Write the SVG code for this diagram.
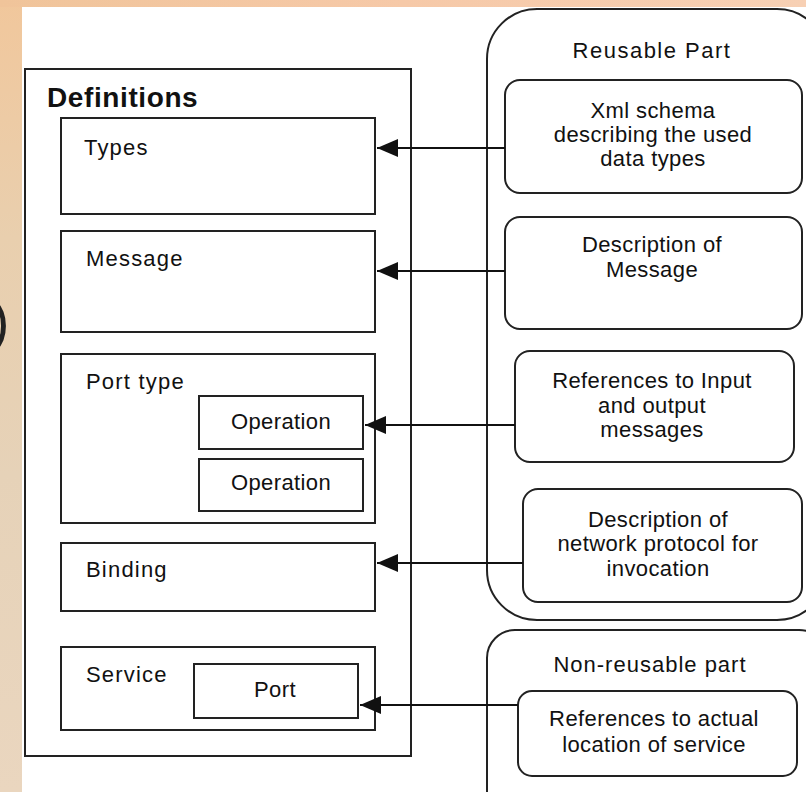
<svg xmlns="http://www.w3.org/2000/svg" width="806" height="792" viewBox="0 0 806 792">
<defs>
<linearGradient id="bgLeft" x1="0" y1="0" x2="0" y2="1">
<stop offset="0" stop-color="#f1c79c"/>
<stop offset="0.3" stop-color="#e9cfae"/>
<stop offset="0.6" stop-color="#e6d2b8"/>
<stop offset="1" stop-color="#ead6bf"/>
</linearGradient>
<linearGradient id="bgTop" x1="0" y1="0" x2="1" y2="0">
<stop offset="0" stop-color="#f0c49a"/>
<stop offset="0.5" stop-color="#f6c9a8"/>
<stop offset="1" stop-color="#f7d0b4"/>
</linearGradient>
<marker id="arr" markerWidth="22" markerHeight="20" refX="21" refY="10" orient="auto" markerUnits="userSpaceOnUse">
<path d="M21,10 L0,1 L0,19 Z" fill="#111"/>
</marker>
<style>
.box{fill:#fff;stroke:#222;stroke-width:2}
.rbox{fill:none;stroke:#222;stroke-width:2}
.lbl{font-family:"Liberation Sans",Arial,sans-serif;font-size:22px;fill:#111;letter-spacing:1.2px}
.rt{font-family:"Liberation Sans",Arial,sans-serif;font-size:22px;fill:#111;text-anchor:middle;letter-spacing:0.4px}
.con{stroke:#111;stroke-width:2;fill:none}
</style>
</defs>
<rect x="0" y="0" width="806" height="792" fill="url(#bgLeft)"/>
<rect x="0" y="0" width="806" height="7" fill="url(#bgTop)"/>
<rect x="22" y="7" width="784" height="785" fill="#fff"/>
<text x="-9" y="340" font-family="Liberation Sans, sans-serif" font-size="55" fill="#222">)</text>

<g id="definitions">
<rect class="box" x="25" y="69" width="386" height="687"/>
<text x="47" y="107" font-family="Liberation Sans, Arial, sans-serif" font-size="28" font-weight="bold" fill="#111" letter-spacing="0.6">Definitions</text>
</g>
<g id="types"><rect class="box" x="61" y="118" width="314" height="96"/><text class="lbl" x="84" y="155">Types</text></g>
<g id="message"><rect class="box" x="61" y="231" width="314" height="101"/><text class="lbl" x="86" y="266">Message</text></g>
<g id="porttype"><rect class="box" x="61" y="354" width="314" height="169"/><text class="lbl" x="86" y="389">Port type</text></g>
<g id="operation1"><rect class="box" x="199" y="396" width="164" height="53"/><text class="rt" x="281" y="429">Operation</text></g>
<g id="operation2"><rect class="box" x="199" y="459" width="164" height="52"/><text class="rt" x="281" y="490">Operation</text></g>
<g id="binding"><rect class="box" x="61" y="543" width="314" height="68"/><text class="lbl" x="86" y="577">Binding</text></g>
<g id="service"><rect class="box" x="61" y="647" width="314" height="83"/><text class="lbl" x="86" y="682">Service</text></g>
<g id="port"><rect class="box" x="194" y="664" width="164" height="54"/><text class="rt" x="275" y="697">Port</text></g>

<g id="reusable"><rect class="rbox" x="487" y="9" width="340" height="611" rx="50" ry="50"/><text class="rt" x="652" y="58" style="letter-spacing:1.5px">Reusable Part</text></g>
<g id="nonreusable"><rect class="rbox" x="487" y="630" width="340" height="200" rx="28" ry="28"/><text class="rt" x="650" y="672" style="letter-spacing:1px">Non-reusable part</text></g>

<g id="xmlschema"><rect class="box" x="505" y="80" width="297" height="113" rx="15"/>
<text class="rt" x="653" y="118">Xml schema</text><text class="rt" x="653" y="142">describing the used</text><text class="rt" x="653" y="166">data types</text></g>
<g id="descmessage"><rect class="box" x="505" y="217" width="297" height="112" rx="15"/>
<text class="rt" x="652" y="252">Description of</text><text class="rt" x="652" y="277">Message</text></g>
<g id="refinput"><rect class="box" x="515" y="351" width="279" height="111" rx="15"/>
<text class="rt" x="652" y="388">References to Input</text><text class="rt" x="652" y="413">and output</text><text class="rt" x="652" y="437">messages</text></g>
<g id="descnetwork"><rect class="box" x="523" y="489" width="279" height="113" rx="15"/>
<text class="rt" x="658" y="527">Description of</text><text class="rt" x="658" y="551">network protocol for</text><text class="rt" x="658" y="576">invocation</text></g>
<g id="reflocation"><rect class="box" x="518" y="691" width="279" height="85" rx="14"/>
<text class="rt" x="654" y="726">References to actual</text><text class="rt" x="654" y="752">location of service</text></g>

<g id="connectors">
<line class="con" x1="505" y1="148" x2="377" y2="148" marker-end="url(#arr)"/>
<line class="con" x1="505" y1="271" x2="377" y2="271" marker-end="url(#arr)"/>
<line class="con" x1="515" y1="425" x2="365" y2="425" marker-end="url(#arr)"/>
<line class="con" x1="523" y1="563" x2="377" y2="563" marker-end="url(#arr)"/>
<line class="con" x1="518" y1="705" x2="360" y2="705" marker-end="url(#arr)"/>
</g>
</svg>
